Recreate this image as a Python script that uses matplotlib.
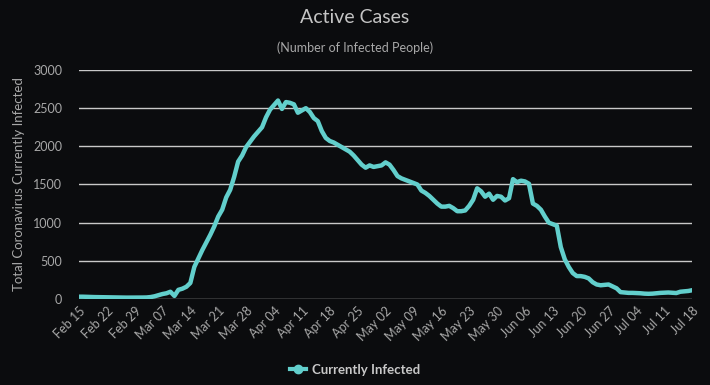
import matplotlib
matplotlib.use("Agg")
import matplotlib.dates as mdates
import numpy as np
import pandas as pd
from matplotlib import pyplot as plt

# daily active cases, Feb 15 .. Jul 18 2020
start_date = "2020-02-15"
active_cases = [
    30, 30, 28, 27, 25, 24, 22, 21, 20, 20,
    19, 18, 18, 18, 18, 18, 19, 20, 25, 35,
    50, 65, 75, 95, 40, 120, 135, 160, 210, 420,
    530, 640, 740, 840, 950, 1080, 1170, 1330, 1430, 1600,
    1800, 1880, 1990, 2060, 2130, 2190, 2250, 2380, 2480, 2540,
    2600, 2490, 2580, 2570, 2550, 2440, 2470, 2500, 2450, 2370,
    2330, 2200, 2110, 2070, 2050, 2020, 1990, 1960, 1930, 1880,
    1820, 1760, 1720, 1750, 1730, 1740, 1750, 1790, 1760, 1690,
    1610, 1580, 1560, 1540, 1520, 1500, 1420, 1390, 1350, 1300,
    1250, 1210, 1210, 1220, 1190, 1150, 1150, 1160, 1220, 1300,
    1450, 1410, 1340, 1380, 1300, 1350, 1340, 1290, 1320, 1570,
    1530, 1550, 1540, 1510, 1250, 1220, 1170, 1080, 1000, 980,
    960, 680, 520, 420, 340, 300, 300, 290, 270, 220,
    190, 180, 185, 190, 165, 140, 90, 85, 80, 80,
    78, 75, 70, 68, 70, 75, 80, 82, 85, 82,
    78, 95, 100, 105, 115,
]
y_ticks = [0, 500, 1000, 1500, 2000, 2500, 3000]
series_name = "Currently Infected"

BG = "#0b0c0e"
LINE = "#62cfcc"
GRID = "#c9c9c9"
TEXT = "#a8a8a8"

plt.rcParams["font.family"] = ["Lato", "DejaVu Sans"]

dates = pd.date_range(start_date, periods=len(active_cases), freq="D")

fig = plt.figure(figsize=(7.1, 3.85), dpi=100, facecolor=BG)
ax = fig.add_axes([0.111, 0.2234, 0.864, 0.5948], facecolor=BG)

ax.plot(dates, active_cases, color=LINE, lw=3.2, solid_joinstyle="round",
        label=series_name, marker="o", markevery=[], zorder=3)

ax.set_xlim(dates[0], dates[-1])
ax.set_ylim(0, 3000)
ax.set_yticks(y_ticks)
ax.yaxis.grid(True, color=GRID, lw=1)
ax.set_axisbelow(True)
for s in ax.spines.values():
    s.set_visible(False)

ax.xaxis.set_major_locator(mdates.DayLocator(interval=7))
ax.xaxis.set_major_formatter(mdates.DateFormatter("%b %d"))
ax.set_xticks(dates[::7])
ax.tick_params(axis="both", length=0, colors=TEXT, labelsize=9)
ax.tick_params(axis="x", pad=4)
ax.tick_params(axis="y", pad=12)
plt.setp(ax.get_xticklabels(), rotation=45, ha="right", rotation_mode="anchor")

ax.set_ylabel("Total Coronavirus Currently Infected", color=TEXT, fontsize=9.5, labelpad=6)

fig.text(0.5, 0.955, "Active Cases", ha="center", va="center", color="#c4c4c4", fontsize=14)
fig.text(0.5, 0.877, "(Number of Infected People)", ha="center", va="center", color=TEXT, fontsize=9)

leg = fig.legend(handles=[plt.Line2D([], [], color=LINE, lw=3, marker="o", ms=6)],
                 labels=[series_name], loc="center", bbox_to_anchor=(0.5, 0.04),
                 frameon=False, handlelength=1.2, handletextpad=0.4)
for t in leg.get_texts():
    t.set_color("#c8c8c8")
    t.set_fontweight("bold")
    t.set_fontsize(9.5)

fig.savefig("out.png", dpi=100, facecolor=BG)
